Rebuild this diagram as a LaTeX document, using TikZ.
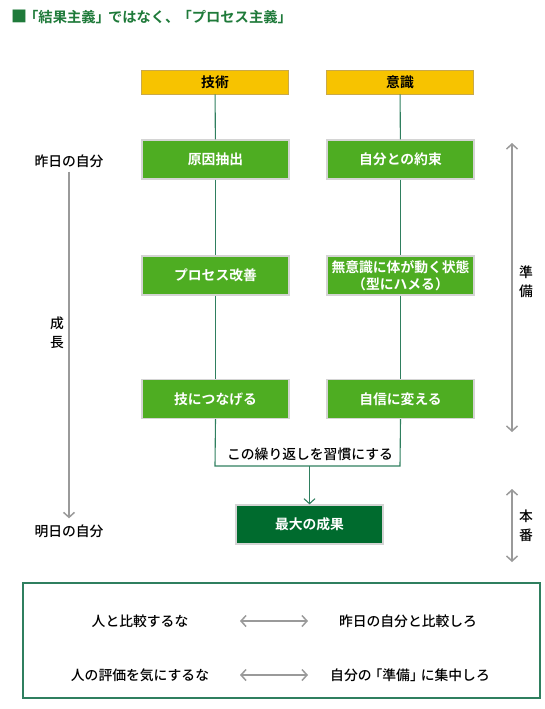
\documentclass[tikz,border=0pt]{standalone}
\usepackage{fontspec}
\setmainfont{Noto Sans CJK JP Medium}[BoldFont={Noto Sans CJK JP Bold}]
\usetikzlibrary{arrows.meta}
\definecolor{ttlgreen}{HTML}{1F7A3A}
\definecolor{hdrfill}{HTML}{F7C300}
\definecolor{hdrdraw}{HTML}{C9A94B}
\definecolor{boxgreen}{HTML}{4EAD22}
\definecolor{boxedge}{HTML}{D4D4D4}
\definecolor{darkgreen}{HTML}{006B2E}
\definecolor{linegreen}{HTML}{2F7F5F}
\definecolor{arrgray}{HTML}{9A9A9A}
\tikzset{
  txt/.style={font=\fontsize{13.8pt}{16pt}\selectfont, inner sep=0pt},
  hdrbox/.style={txt, font=\fontsize{13.8pt}{16pt}\selectfont\bfseries, fill=hdrfill, draw=hdrdraw, line width=0.8pt, minimum width=147pt, minimum height=24pt},
  stepbox/.style={txt, font=\fontsize{13.8pt}{16pt}\selectfont\bfseries, text=white, fill=boxgreen, draw=boxedge, line width=1.2pt, minimum width=147pt, minimum height=39pt, align=center},
  resbox/.style={stepbox, fill=darkgreen},
  gline/.style={draw=linegreen, line width=1.1pt},
  grayarr/.style={draw=arrgray, line width=1.5pt, arrows={-Straight Barb[length=5pt,width=11pt]}},
  graydbl/.style={draw=arrgray, line width=1.5pt, arrows={Straight Barb[length=5pt,width=11pt]-Straight Barb[length=5pt,width=11pt]}},
  vlabel/.style={txt, align=center, font=\fontsize{13.8pt}{19pt}\selectfont}
}
\begin{document}
\begin{tikzpicture}[x=1pt,y=-1pt]
\useasboundingbox (0,0) rectangle (545,709);
% title
\node[txt, anchor=west, text=ttlgreen, font=\fontsize{14.3pt}{16pt}\selectfont\bfseries] (title) at (11,17) {{\fontsize{16pt}{16pt}\selectfont ■}\kern-3pt「結果主義」\kern-2pt ではなく、\kern-2pt「プロセス主義」};
% headers
\node[hdrbox] (hA) at (215,82) {技術};
\node[hdrbox] (hB) at (400,82) {意識};
% steps
\node[stepbox] (a1) at (215.5,159.5) {原因抽出};
\node[stepbox] (b1) at (400.5,159.5) {自分との約束};
\node[stepbox] (a2) at (215.5,275.5) {プロセス改善};
\node[stepbox, font=\fontsize{13.8pt}{17pt}\selectfont\bfseries] (b2) at (400.5,275.5) {無意識に体が動く状態\\（型にハメる）};
\node[stepbox] (a3) at (215.5,399) {技につなげる};
\node[stepbox] (b3) at (400.5,399) {自信に変える};
\node[resbox] (res) at (309.5,524.5) {最大の成果};
% connectors
\draw[gline] (hA) -- (a1);
\draw[gline] (a1) -- (a2);
\draw[gline] (a2) -- (a3);
\draw[gline] (hB) -- (b1);
\draw[gline] (b1) -- (b2);
\draw[gline] (b2) -- (b3);
\coordinate (jL) at (215,466);
\coordinate (jR) at (400,466);
\coordinate (jM) at (309.5,466);
\draw[gline] (a3.south) -- (jL) -- (jR) -- (b3.south);
\draw[gline, arrows={-Straight Barb[length=5pt,width=11pt]}] (jM) -- (res.north);
\node[txt] (habit) at (310,454) {この繰り返しを習慣にする};
% left axis
\node[txt] (yest) at (69,161) {昨日の自分};
\node[txt] (tomo) at (69,531) {明日の自分};
\draw[grayarr] ([yshift=-4pt]yest.south) -- ([yshift=6pt]tomo.north);
\node[vlabel] (grow) at (57,333) {成\\長};
% right axis
\coordinate (p1) at (512,143);
\coordinate (p2) at (512,432);
\draw[graydbl] (p1) -- (p2);
\node[vlabel] (prep) at (526,282) {準\\備};
\coordinate (q1) at (512,489);
\coordinate (q2) at (512,562);
\draw[graydbl] (q1) -- (q2);
\node[vlabel] (perf) at (526,526) {本\\番};
% bottom frame
\node[draw=linegreen, line width=1.1pt, minimum width=517pt, minimum height=115pt, inner sep=0pt] (frame) at (281.5,640.5) {};
\node[txt] (l1) at (140,621) {人と比較するな};
\node[txt] (r1) at (408,621) {昨日の自分と比較しろ};
\node[txt] (l2) at (140,675) {人の評価を気にするな};
\node[txt] (r2) at (410,675) {自分の\kern-3pt「準備」\kern-3pt に集中しろ};
\coordinate (c1a) at (240,621);
\coordinate (c1b) at (308,621);
\coordinate (c2a) at (240,675);
\coordinate (c2b) at (308,675);
\draw[graydbl] (c1a) -- (c1b);
\draw[graydbl] (c2a) -- (c2b);
\end{tikzpicture}
\end{document}
